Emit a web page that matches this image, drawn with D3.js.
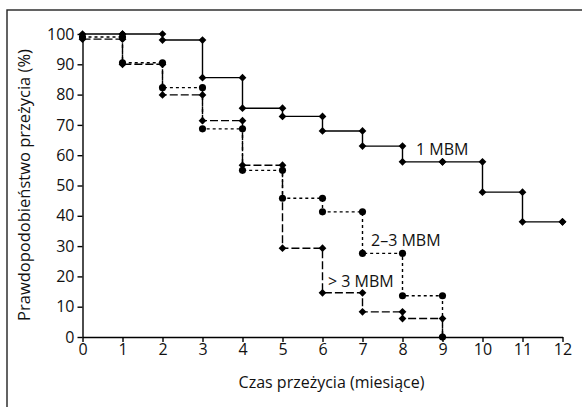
<!DOCTYPE html>
<html>
<head>
<meta charset="utf-8">
<script src="https://cdn.jsdelivr.net/npm/d3@7"></script>
<style>
  body { margin: 0; background: #fff; }
  svg { display: block; font-family: "Open Sans", sans-serif; }
  .axis path, .axis line { stroke: #000; stroke-width: 1.4; }
  .axis text { font-family: "Open Sans", sans-serif; font-size: 16px; fill: #111; }
</style>
</head>
<body>
<svg class="chart"></svg>
<script>
// months on the x axis
var months = [0, 1, 2, 3, 4, 5, 6, 7, 8, 9, 10, 11, 12];
// survival (%) after each month, per group
var mbm1 = [100, 100, 98, 85.6, 75.5, 72.8, 68, 63, 57.8, 57.8, 47.8, 38, 38];
var mbm23 = [99, 90.5, 82.3, 68.7, 55, 45.8, 41.3, 27.6, 13.6, 0];
var mbm3plus = [98.3, 90, 79.9, 71.4, 56.7, 29.3, 14.6, 8.3, 6.1, 0];
var yTicks = [0, 10, 20, 30, 40, 50, 60, 70, 80, 90, 100];
var seriesLabels = ["1 MBM", "2\u20133 MBM", "> 3 MBM"];

var width = 582, height = 407;
var chart = d3.select(".chart").attr("width", width).attr("height", height);

// frame round the figure (cut off at right / bottom)
chart.append("rect")
    .attr("x", 7).attr("y", 10)
    .attr("width", 600).attr("height", 420)
    .attr("fill", "none").attr("stroke", "#222").attr("stroke-width", 1.4);

var xScale = d3.scaleLinear().domain([0, 12]).range([82.5, 562.5]);
var yScale = d3.scaleLinear().domain([0, 100]).range([337, 34]);

chart.append("g")
    .attr("class", "axis x")
    .attr("transform", "translate(0," + yScale(0) + ")")
    .call(d3.axisBottom(xScale).tickValues(months).tickSize(5).tickSizeOuter(0).tickPadding(2));

chart.append("g")
    .attr("class", "axis y")
    .attr("transform", "translate(" + xScale(0) + ",0)")
    .call(d3.axisLeft(yScale).tickValues(yTicks).tickSize(5).tickSizeOuter(0).tickPadding(3));

chart.append("text")
    .attr("x", 331.5).attr("y", 388)
    .attr("text-anchor", "middle")
    .style("font-size", "16px").attr("fill", "#111")
    .text("Czas prze\u017cycia (miesi\u0105ce)");

chart.append("text")
    .attr("transform", "translate(29.5,185) rotate(-90)")
    .attr("text-anchor", "middle")
    .style("font-size", "16.5px").attr("fill", "#111")
    .text("Prawdopodobie\u0144stwo prze\u017cycia (%)");

var line = d3.line()
    .curve(d3.curveStepAfter)
    .x(function(d) { return xScale(d.t); })
    .y(function(d) { return yScale(d.s); });

var groups = [
  { vals: mbm3plus, dash: "8,3", shape: "diamond" },
  { vals: mbm23, dash: "3,3", shape: "circle" },
  { vals: mbm1, dash: null, shape: "diamond" }
];

groups.forEach(function(g) {
  var pts = g.vals.map(function(v, i) { return { t: months[i], s: v }; });
  chart.append("path")
      .datum(pts)
      .attr("fill", "none")
      .attr("stroke", "#000")
      .attr("stroke-width", 1.4)
      .attr("stroke-dasharray", g.dash)
      .attr("d", line);

  // markers at top and bottom of every step
  var marks = [pts[0]];
  for (var i = 1; i < pts.length; i++) {
    marks.push({ t: pts[i].t, s: pts[i - 1].s });
    marks.push(pts[i]);
  }
  var sym = g.shape === "circle"
      ? d3.symbol().type(d3.symbolCircle).size(40)
      : d3.symbol().type(d3.symbolSquare).size(30);
  chart.append("g").selectAll("path")
      .data(marks)
    .enter().append("path")
      .attr("transform", function(d) {
        return "translate(" + xScale(d.t) + "," + yScale(d.s) + ")" + (g.shape === "diamond" ? " rotate(45)" : "");
      })
      .attr("d", sym)
      .attr("fill", "#000");
});

// series labels
var labelPos = [[416, 155], [371, 245.5], [328, 286.5]];
seriesLabels.forEach(function(l, i) {
  chart.append("text")
      .attr("x", labelPos[i][0]).attr("y", labelPos[i][1])
      .style("font-size", "16px").attr("fill", "#111")
      .text(l);
});
</script>
</body>
</html>
